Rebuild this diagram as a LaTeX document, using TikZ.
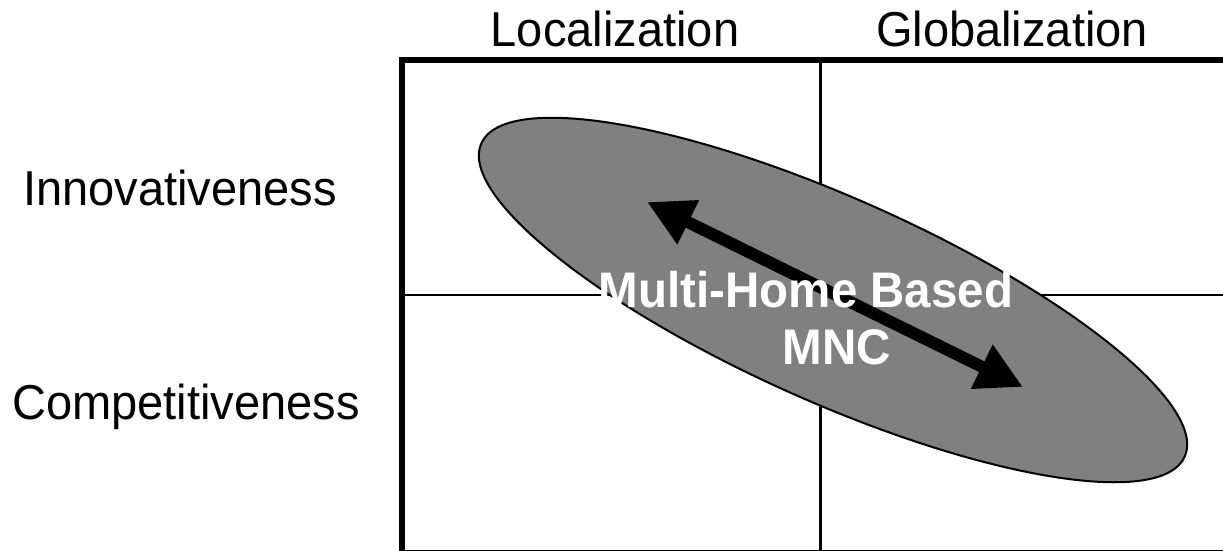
\documentclass[tikz,border=0pt]{standalone}
\usepackage{fontspec}
\setmainfont{Liberation Sans}
\newfontfamily\lblfont[FakeStretch=0.96]{Liberation Sans}
\newfontfamily\inlblfont[FakeStretch=0.95]{Liberation Sans Bold}
\usetikzlibrary{arrows.meta}
\tikzset{
  lbl/.style={anchor=base, inner sep=0pt, font=\lblfont\fontsize{49}{58}\selectfont},
  inlbl/.style={anchor=base, inner sep=0pt, text=white, font=\inlblfont\fontsize{50}{58}\selectfont},
  frame/.style={line width=6pt},
  grid/.style={line width=2.2pt},
  blob/.style={fill={rgb,255:red,128;green,128;blue,128}, draw=black, line width=2pt},
  dblarrow/.style={line width=12pt, {Triangle[length=46pt,width=46pt]}-{Triangle[length=46pt,width=46pt]}}
}
\begin{document}
\begin{tikzpicture}[x=1pt,y=-1pt]
\clip (0,0) rectangle (1223,550);
\fill[white] (0,0) rectangle (1223,550);
% frame and grid
\coordinate (tl) at (402,59.7);
\coordinate (br) at (1240,552.5);
\draw[grid] (820.5,59.7) -- (820.5,552.5);
\draw[grid] (402,295) -- (1240,295);
\draw[frame] (br) -| (tl) -| (br);
% labels
\node[lbl] (loc) at (615,46.7) {Localization};
\node[lbl] (glob) at (1012,46.7) {Globalization};
\node[lbl] (inn) at (180,205) {Innovativeness};
\node[lbl] (comp) at (186,419) {Competitiveness};
% ellipse
\coordinate (ec) at (833,300);
\draw[blob, rotate around={-24:(ec)}] (ec) ellipse [x radius=385, y radius=102];
% arrow
\coordinate (tipL) at (647,202);
\coordinate (tipR) at (1023,387);
\draw[dblarrow] (tipL) -- (tipR);
% text
\node[inlbl] (t1) at (806,307.7) {Multi-Home Based};
\node[inlbl] (t2) at (837,364) {MNC};
\end{tikzpicture}
\end{document}
